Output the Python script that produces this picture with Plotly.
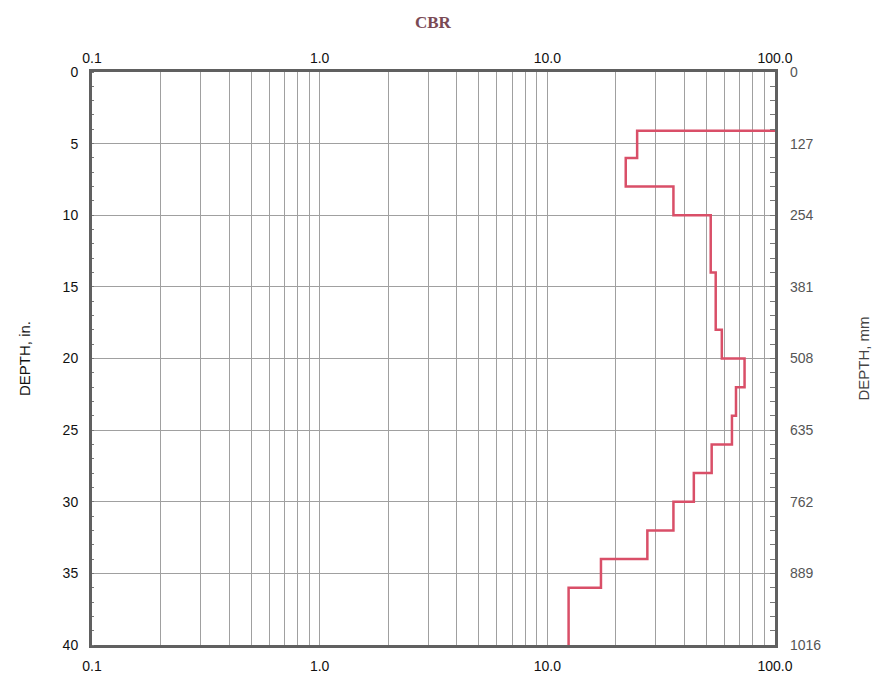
import plotly.graph_objects as go

# Layer boundaries (depth, in.) and CBR of each layer
layer_top = [4.1, 6.0, 8.0, 10.0, 14.0, 18.0, 20.0, 22.0, 24.0, 26.0, 28.0, 30.0, 32.0, 34.0, 36.0]
layer_bottom = [6.0, 8.0, 10.0, 14.0, 18.0, 20.0, 22.0, 24.0, 26.0, 28.0, 30.0, 32.0, 34.0, 36.0, 40.0]
layer_cbr = [24.8, 22.1, 35.8, 52.2, 54.9, 58.4, 73.5, 67.4, 64.7, 52.7, 44.0, 35.8, 27.5, 17.2, 12.4]
surface_cbr = 100.0

cbr_ticks = [0.1, 1, 10, 100]
cbr_ticktext = ["0.1", "1.0", "10.0", "100.0"]
cbr_minor = [m * d for d in (0.1, 1, 10) for m in range(2, 10)]
depth_in_ticks = [0, 5, 10, 15, 20, 25, 30, 35, 40]
depth_mm_ticks = [0, 127, 254, 381, 508, 635, 762, 889, 1016]

# Build the stepped profile
xs = [surface_cbr]
ys = [layer_top[0]]
for top, bot, c in zip(layer_top, layer_bottom, layer_cbr):
    xs += [c, c]
    ys += [top, bot]

fig = go.Figure()
fig.add_trace(go.Scatter(x=xs, y=ys, mode="lines",
                         line=dict(color="#d94f68", width=2.5),
                         showlegend=False, hoverinfo="skip"))
# invisible traces to activate the mm axis and the top CBR axis
fig.add_trace(go.Scatter(x=[1], y=[0], yaxis="y2", mode="markers",
                         marker=dict(opacity=0), showlegend=False, hoverinfo="skip"))
fig.add_trace(go.Scatter(x=[1], y=[0], xaxis="x2", mode="markers",
                         marker=dict(opacity=0), showlegend=False, hoverinfo="skip"))

tick_font = dict(family="Liberation Sans, Arial, sans-serif", size=14, color="#111")
grid_c = "#a0a0a0"
frame_c = "#606060"

xcommon = dict(type="log", range=[-1, 2], tickvals=cbr_ticks, ticktext=cbr_ticktext,
               tickfont=tick_font, ticks="", showgrid=True, gridcolor=grid_c, gridwidth=1,
               minor=dict(tickvals=cbr_minor, showgrid=True, gridcolor=grid_c, gridwidth=1),
               zeroline=False, automargin=False)

fig.update_layout(
    width=878, height=677,
    margin=dict(l=92, r=103, t=72, b=32),
    paper_bgcolor="white", plot_bgcolor="white",
    xaxis=dict(**xcommon, side="bottom", showline=True, linecolor=frame_c, linewidth=3,
               mirror=True, ticklabelstandoff=6),
    xaxis2=dict(**xcommon, side="top", overlaying="x", showline=False, ticklabelstandoff=5),
    yaxis=dict(range=[40, 0], tickvals=depth_in_ticks, tickfont=tick_font,
               showgrid=True, gridcolor=grid_c, gridwidth=1, zeroline=False,
               showline=True, linecolor=frame_c, linewidth=3, mirror=True,
               ticks="", ticklabelstandoff=8, automargin=False,
               minor=dict(dtick=1, ticks="inside", ticklen=2, tickcolor="#777", showgrid=False),
               title=dict(text="DEPTH, in.", font=dict(family="Liberation Sans, Arial, sans-serif",
                                                        size=15, color="#111"), standoff=29)),
    yaxis2=dict(range=[1016, 0], overlaying="y", side="right", tickvals=depth_mm_ticks,
                tickfont=dict(family="Liberation Sans, Arial, sans-serif", size=14, color="#555"),
                showgrid=False, zeroline=False, ticks="", ticklabelstandoff=14, automargin=False,
                minor=dict(tickvals=[25.4 * i for i in range(1, 40)], ticks="inside",
                           ticklen=5, tickcolor="#777"),
                title=dict(text="DEPTH, mm", font=dict(family="Liberation Sans, Arial, sans-serif",
                                                       size=15, color="#444"), standoff=38)),
    annotations=[dict(text="<b>CBR</b>", x=0.5, y=1.0, xref="paper", yref="paper",
                      xanchor="center", yanchor="bottom", yshift=38, showarrow=False,
                      font=dict(family="Liberation Serif, Times New Roman, serif", size=17,
                                color="#7a4a55"))],
)

fig.write_html("out.html")
